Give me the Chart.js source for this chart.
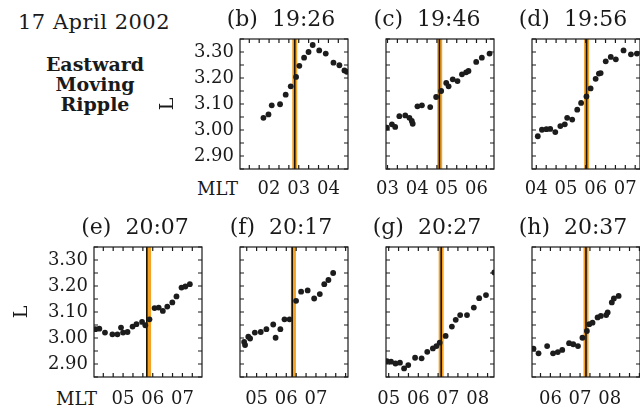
<!DOCTYPE html>
<html>
<head>
<meta charset="utf-8">
<script src="https://cdn.jsdelivr.net/npm/chart.js@4"></script>
<style>
  html, body { margin: 0; padding: 0; background: #fff; overflow: hidden; }
  body { width: 640px; height: 408px; position: relative; font-family: "DejaVu Serif", serif; color: #1a1a1a; }
  canvas { position: absolute; }
  .txt { position: absolute; white-space: nowrap; line-height: 1; }
</style>
</head>
<body>
<div class="txt" style="left:18px; top:12px; font-size:21px; letter-spacing:0.5px;">17 April 2002</div>
<div class="txt" style="left:35px; top:54px; width:120px; text-align:center; font-size:19px; font-weight:bold; line-height:20px;">Eastward<br>Moving<br>Ripple</div>
<div class="txt" style="right:402px; top:180px; font-size:18px;">MLT</div>
<div class="txt" style="right:543px; top:390px; font-size:18px;">MLT</div>
<script>
// panel letters and UT of each snapshot
const panelIds = ['b', 'c', 'd', 'e', 'f', 'g', 'h'];
const panelTimes = ['19:26', '19:46', '19:56', '20:07', '20:17', '20:27', '20:37'];

// MLT window of each panel (hours), all the same span
const mltStart = [1.02, 2.95, 3.855, 4.02, 4.44, 4.91, 5.38];
const mltSpan = 3.64;
const lRange = [2.85, 3.35];

// black marker line and orange band (MLT hours)
const markerMLT = [2.865, 4.75, 5.695, 5.80, 6.20, 6.77, 7.20];
const bandMLT = [2.865, 4.76, 5.695, 5.86, 6.24, 6.77, 7.20];

// (b) 19:26
const bMLT = [1.81, 1.98, 2.09, 2.37, 2.56, 2.73, 2.91, 3.02, 3.18, 3.33, 3.47, 3.69, 3.91, 4.17, 4.37, 4.54, 4.62];
const bL = [3.047, 3.060, 3.095, 3.099, 3.136, 3.168, 3.204, 3.247, 3.278, 3.300, 3.327, 3.306, 3.294, 3.259, 3.249, 3.229, 3.224];
// (c) 19:46
const cMLT = [2.98, 3.15, 3.26, 3.40, 3.60, 3.74, 3.82, 3.85, 4.01, 4.16, 4.44, 4.64, 4.81, 4.98, 5.06, 5.20, 5.36, 5.51, 5.65, 5.73, 5.99, 6.18, 6.44];
const cL = [3.009, 3.022, 3.012, 3.053, 3.056, 3.047, 3.035, 3.024, 3.091, 3.095, 3.088, 3.127, 3.150, 3.181, 3.168, 3.195, 3.188, 3.214, 3.222, 3.227, 3.262, 3.278, 3.294];
// (d) 19:56
const dMLT = [4.05, 4.19, 4.34, 4.47, 4.64, 4.81, 4.96, 5.04, 5.21, 5.38, 5.51, 5.69, 5.83, 6.00, 6.11, 6.17, 6.34, 6.51, 6.68, 6.94, 7.19, 7.39];
const dL = [2.976, 3.001, 3.003, 3.004, 2.992, 3.015, 3.022, 3.047, 3.040, 3.078, 3.104, 3.129, 3.160, 3.197, 3.217, 3.219, 3.264, 3.281, 3.272, 3.306, 3.291, 3.294];
// (e) 20:07
const eMLT = [4.07, 4.20, 4.39, 4.64, 4.81, 4.93, 5.00, 5.15, 5.32, 5.45, 5.64, 5.75, 5.89, 6.06, 6.20, 6.34, 6.49, 6.66, 6.80, 6.97, 7.10, 7.25];
const eL = [3.034, 3.036, 3.021, 3.014, 3.014, 3.040, 3.021, 3.023, 3.044, 3.053, 3.062, 3.049, 3.072, 3.115, 3.117, 3.104, 3.121, 3.137, 3.160, 3.194, 3.198, 3.207];
// (f) 20:17
const fMLT = [4.58, 4.61, 4.72, 4.78, 4.94, 5.14, 5.33, 5.56, 5.64, 5.80, 5.94, 6.11, 6.33, 6.50, 6.72, 6.94, 7.13, 7.28, 7.42, 7.58];
const fL = [2.985, 2.973, 3.005, 2.998, 3.021, 3.023, 3.034, 3.052, 3.001, 3.034, 3.072, 3.072, 3.143, 3.178, 3.183, 3.152, 3.169, 3.207, 3.223, 3.250];
// (g) 20:27
const gMLT = [4.94, 5.08, 5.23, 5.38, 5.52, 5.66, 5.89, 6.11, 6.30, 6.49, 6.61, 6.72, 6.92, 7.13, 7.26, 7.41, 7.64, 7.87, 8.05, 8.28, 8.56];
const gL = [2.911, 2.909, 2.902, 2.905, 2.883, 2.896, 2.924, 2.922, 2.947, 2.960, 2.969, 2.982, 3.008, 3.044, 3.070, 3.088, 3.088, 3.117, 3.153, 3.165, 3.252];
// (h) 20:37
const hMLT = [5.43, 5.60, 5.89, 6.09, 6.25, 6.40, 6.63, 6.77, 6.93, 7.08, 7.23, 7.31, 7.42, 7.59, 7.70, 7.88, 7.93, 8.07, 8.14, 8.30];
const hL = [2.959, 2.941, 2.969, 2.941, 2.946, 2.954, 2.980, 2.976, 2.969, 3.001, 3.027, 3.053, 3.059, 3.079, 3.085, 3.088, 3.098, 3.137, 3.152, 3.162];

const mltSeries = [bMLT, cMLT, dMLT, eMLT, fMLT, gMLT, hMLT];
const lSeries = [bL, cL, dL, eL, fL, gL, hL];

// page layout: top-left corner of each plot box
const boxLeft = [240, 386, 532, 94, 240, 386, 532];
const boxTop = [39, 39, 39, 247, 247, 247, 247];
const boxW = 108, boxH = 130;
const ink = '#1a1a1a';
const serif = '"DejaVu Serif", serif';

Chart.defaults.font.family = serif;
Chart.defaults.color = ink;

function stepTicks(lo, hi, step) {
  const out = [];
  for (let k = Math.ceil(lo / step - 1e-6); k * step <= hi + 1e-9; k++) out.push({ value: +(k * step).toFixed(6) });
  return out;
}

// IDL-style frame: box with inward ticks on all four sides
const frame = {
  id: 'frame',
  // the L axis keeps a narrow box so the title centres like the original;
  // widen only its drawing area so the tick labels are not clipped
  afterLayout(chart) {
    if (chart.options.scales.y.ticks.display) chart.scales.y.left = 0;
  },
  afterDatasetsDraw(chart) {
    const { ctx, chartArea: a, scales: { x, y } } = chart;
    ctx.save();
    ctx.strokeStyle = ink;
    ctx.lineWidth = 1.2;
    ctx.strokeRect(a.left, a.top, a.right - a.left, a.bottom - a.top);
    ctx.beginPath();
    for (const t of x.ticks) {
      const px = x.getPixelForValue(t.value);
      ctx.moveTo(px, a.bottom); ctx.lineTo(px, a.bottom - 4);
      ctx.moveTo(px, a.top); ctx.lineTo(px, a.top + 4);
    }
    for (const t of y.ticks) {
      const py = y.getPixelForValue(t.value);
      ctx.moveTo(a.left, py); ctx.lineTo(a.left + 4, py);
      ctx.moveTo(a.right, py); ctx.lineTo(a.right - 4, py);
    }
    ctx.stroke();
    ctx.restore();
  }
};

function makePanel(i) {
  const labelled = i === 0 || i === 3;
  const padL = labelled ? 64 : 0, yW = 26, padR = 6, head = 36, foot = 32;
  const x0 = mltStart[i], x1 = mltStart[i] + mltSpan;
  const cv = document.createElement('canvas');
  cv.width = padL + yW + boxW + padR;
  cv.height = head + boxH + foot;
  cv.style.left = (boxLeft[i] - yW - padL) + 'px';
  cv.style.top = (boxTop[i] - head) + 'px';
  document.body.appendChild(cv);

  const vline = v => [{ x: v, y: lRange[0] }, { x: v, y: lRange[1] }];

  new Chart(cv, {
    type: 'scatter',
    data: {
      datasets: [
        { data: mltSeries[i].map((v, k) => ({ x: v, y: lSeries[i][k] })),
          pointRadius: 2.9, pointBackgroundColor: '#1c1c1c', pointBorderWidth: 0, order: 0 },
        { data: vline(markerMLT[i]), showLine: true, borderColor: '#1a1208', borderWidth: 1.6, pointRadius: 0, order: 1 },
        { data: vline(bandMLT[i]), showLine: true, borderColor: '#f3a225', borderWidth: 5, pointRadius: 0, order: 2 },
      ]
    },
    options: {
      responsive: false,
      animation: false,
      devicePixelRatio: 1,
      layout: { padding: { left: padL, right: padR, top: 0, bottom: 0 } },
      plugins: {
        legend: { display: false },
        tooltip: { enabled: false },
        title: {
          display: true,
          text: '(' + panelIds[i] + ')  ' + panelTimes[i],
          color: ink,
          font: { family: serif, size: 22, weight: 'normal', lineHeight: 1.2 },
          padding: { top: 3.8, bottom: 5.8 }
        }
      },
      scales: {
        x: {
          type: 'linear', min: x0, max: x1, bounds: 'data',
          afterBuildTicks: s => { s.ticks = stepTicks(x0, x1, 1 / 3); },
          afterFit: s => { s.height = foot; s.paddingLeft = 0; s.paddingRight = 0; },
          grid: { display: false, drawTicks: false },
          border: { display: false },
          ticks: {
            autoSkip: false, maxRotation: 0, minRotation: 0,
            padding: i < 3 ? 9.2 : 11.2,
            color: ink, font: { size: 18 },
            callback: v => {
              const h = Math.round(v);
              return Math.abs(v - h) < 0.01 && v < x1 - 0.1 ? String(h).padStart(2, '0') : '';
            }
          }
        },
        y: {
          type: 'linear', min: lRange[0], max: lRange[1], bounds: 'data',
          afterBuildTicks: s => { s.ticks = stepTicks(lRange[0], lRange[1], 0.05); },
          afterFit: s => { s.width = yW; s.paddingTop = 0; s.paddingBottom = 0; },
          grid: { display: false, drawTicks: false },
          border: { display: false },
          title: {
            display: labelled, text: 'L', color: ink,
            font: { size: 19 }, padding: { top: 6.7, bottom: 0 }
          },
          ticks: {
            display: labelled, autoSkip: false, padding: 6, color: ink, font: { size: 18 },
            callback: v => Math.abs(v * 10 - Math.round(v * 10)) < 1e-6 ? v.toFixed(2) : ''
          }
        }
      }
    },
    plugins: [frame]
  });
}

panelIds.forEach((_, i) => makePanel(i));
</script>
</body>
</html>
